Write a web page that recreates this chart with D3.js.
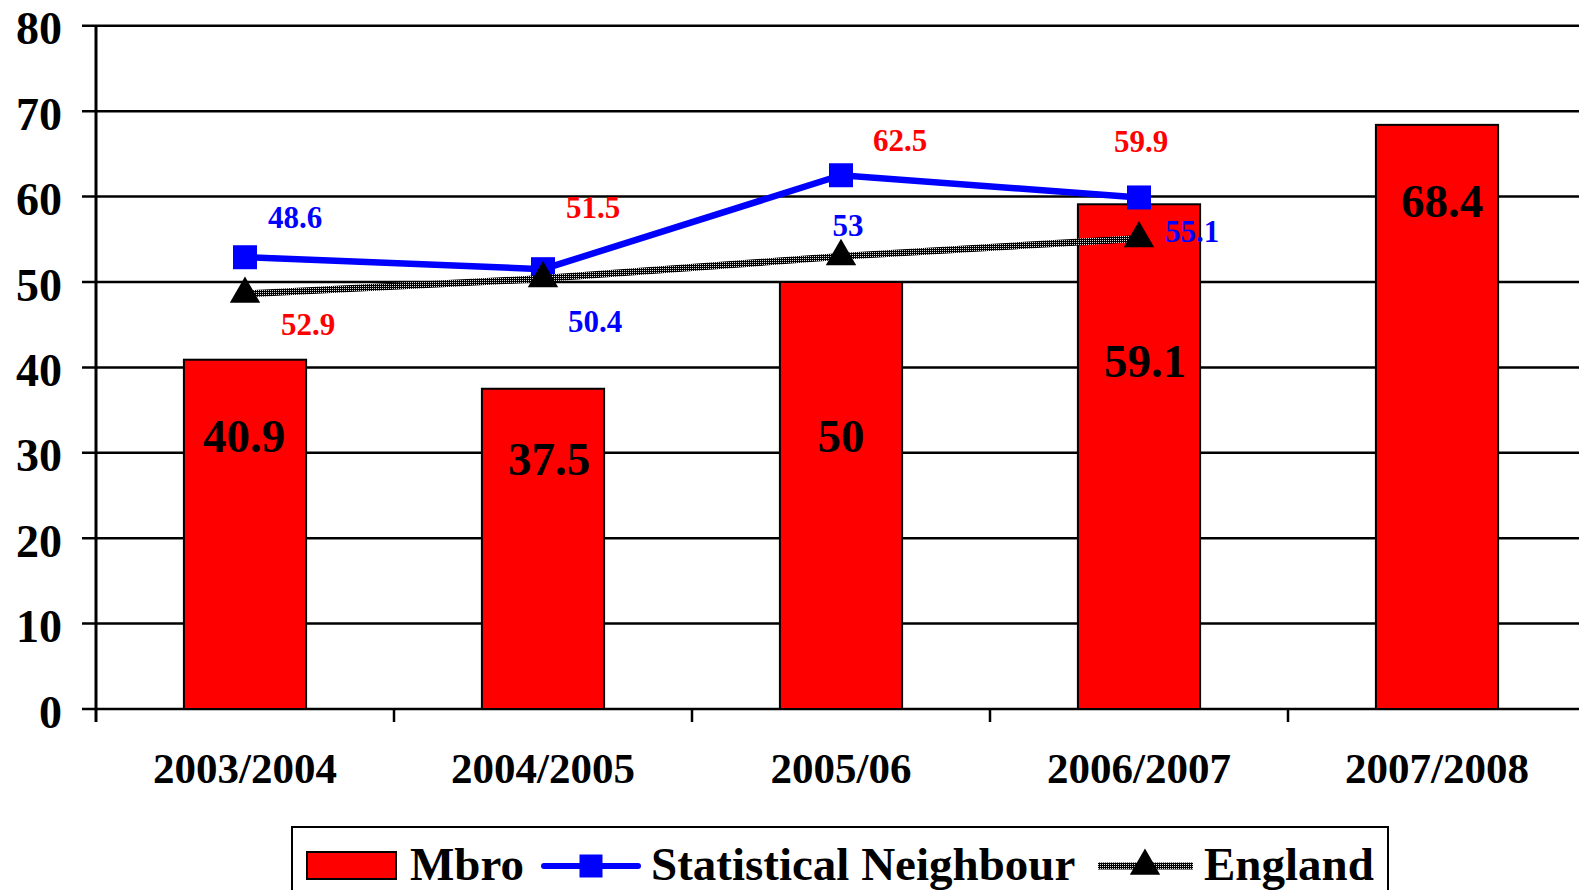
<!DOCTYPE html>
<html>
<head>
<meta charset="utf-8">
<script src="https://cdn.jsdelivr.net/npm/d3@7"></script>
<style>
    body { margin: 0; background: #fff; }
    svg { display: block; font-family: "Liberation Serif", "Times New Roman", serif; font-weight: bold; }
</style>
</head>
<body>
<svg id="chart"></svg>
<script>
// Chart values
const categories = ["2003/2004", "2004/2005", "2005/06", "2006/2007", "2007/2008"];
const mbro = [40.9, 37.5, 50, 59.1, 68.4];
const statNeighbour = [52.9, 51.5, 62.5, 59.9];
const england = [48.6, 50.4, 53, 55.1];
const yTicks = [0, 10, 20, 30, 40, 50, 60, 70, 80];
const seriesNames = ["Mbro", "Statistical Neighbour", "England"];

// Hand placed data labels (px offsets from the marker / bar top)
const snLabelOffset = [[63, 78], [50, -51], [59, -24], [2, -45]];
const engLabelOffset = [[50, -66], [52, 53], [7, -20], [53, 4]];
const barLabelOffset = [[-1, 92], [6, 86], [0, 170], [6, 173], [5, 92]];

drawChart();

function drawChart() {
    const width = 1579;
    const height = 890;
    const left = 96;
    const step = 298;
    const right = left + step * categories.length;

    const svg = d3.select("#chart")
        .attr("width", width)
        .attr("height", height);

    // stipple pattern for the England line
    const defs = svg.append("defs");
    const pat = defs.append("pattern")
        .attr("id", "stipple")
        .attr("patternUnits", "userSpaceOnUse")
        .attr("width", 2)
        .attr("height", 2);
    pat.append("rect").attr("width", 2).attr("height", 2).attr("fill", "#000");
    pat.append("rect").attr("width", 1).attr("height", 1).attr("fill", "#ddd");

    // Scales
    const x = d3.scaleBand()
        .domain(categories)
        .range([left, right])
        .paddingInner(0.59)
        .paddingOuter(0.295);

    const y = d3.scaleLinear()
        .domain([0, 80])
        .range([709, 25.8]);

    const cx = (i) => x(categories[i]) + x.bandwidth() / 2;

    // Gridlines
    svg.append("g")
        .selectAll("line")
        .data(yTicks)
        .join("line")
        .attr("x1", left - 14)
        .attr("x2", width)
        .attr("y1", (d) => y(d))
        .attr("y2", (d) => y(d))
        .attr("stroke", "#000")
        .attr("stroke-width", 2.5);

    // Y axis labels
    const yAxis = svg.append("g")
        .attr("transform", `translate(${left},0)`)
        .call(d3.axisLeft(y).tickValues(yTicks).tickSize(0).tickPadding(34));
    yAxis.select(".domain").remove();
    yAxis.selectAll("text")
        .attr("font-size", 46)
        .attr("font-family", "Liberation Serif, Times New Roman, serif")
        .attr("font-weight", "bold")
        .attr("fill", "#000")
        .attr("dy", 18)
        .attr("y", 0);

    // Vertical axis line and category separators
    svg.append("line")
        .attr("x1", left).attr("x2", left)
        .attr("y1", y(80)).attr("y2", y(0) + 13)
        .attr("stroke", "#000").attr("stroke-width", 3);

    svg.append("g")
        .selectAll("line")
        .data(d3.range(1, categories.length + 1))
        .join("line")
        .attr("x1", (d) => left + d * x.step())
        .attr("x2", (d) => left + d * x.step())
        .attr("y1", y(0))
        .attr("y2", y(0) + 13)
        .attr("stroke", "#000")
        .attr("stroke-width", 2.5);

    // Category labels
    svg.append("g")
        .selectAll("text")
        .data(categories)
        .join("text")
        .attr("x", (d, i) => cx(i))
        .attr("y", 783)
        .attr("text-anchor", "middle")
        .attr("font-size", 43)
        .text((d) => d);

    // Bars
    svg.append("g")
        .selectAll("rect")
        .data(mbro)
        .join("rect")
        .attr("x", (d, i) => x(categories[i]))
        .attr("y", (d) => y(d))
        .attr("width", x.bandwidth())
        .attr("height", (d) => y(0) - y(d))
        .attr("fill", "#ff0000")
        .attr("stroke", "#000")
        .attr("stroke-width", 2);

    svg.append("g")
        .selectAll("text")
        .data(mbro)
        .join("text")
        .attr("x", (d, i) => cx(i) + barLabelOffset[i][0])
        .attr("y", (d, i) => y(d) + barLabelOffset[i][1])
        .attr("text-anchor", "middle")
        .attr("font-size", 47)
        .attr("fill", "#000")
        .text((d) => d);

    // Statistical Neighbour line
    const line = d3.line()
        .x((d, i) => cx(i))
        .y((d) => y(d));

    svg.append("path")
        .datum(statNeighbour)
        .attr("d", line)
        .attr("fill", "none")
        .attr("stroke", "#0000ff")
        .attr("stroke-width", 6.5);

    svg.append("g")
        .selectAll("path")
        .data(statNeighbour)
        .join("path")
        .attr("transform", (d, i) => `translate(${cx(i)},${y(d)})`)
        .attr("d", d3.symbol(d3.symbolSquare, 576))
        .attr("fill", "#0000ff");

    // England line
    svg.append("path")
        .datum(england)
        .attr("d", line)
        .attr("fill", "none")
        .attr("stroke", "url(#stipple)")
        .attr("stroke-width", 7);

    svg.append("g")
        .selectAll("path")
        .data(england)
        .join("path")
        .attr("transform", (d, i) => `translate(${cx(i)},${y(d)})`)
        .attr("d", d3.symbol(d3.symbolTriangle, 400))
        .attr("fill", "#000");

    // Line data labels
    svg.append("g")
        .selectAll("text")
        .data(statNeighbour)
        .join("text")
        .attr("x", (d, i) => cx(i) + snLabelOffset[i][0])
        .attr("y", (d, i) => y(d) + snLabelOffset[i][1])
        .attr("text-anchor", "middle")
        .attr("font-size", 31)
        .attr("fill", "#ff0000")
        .text((d) => d);

    svg.append("g")
        .selectAll("text")
        .data(england)
        .join("text")
        .attr("x", (d, i) => cx(i) + engLabelOffset[i][0])
        .attr("y", (d, i) => y(d) + engLabelOffset[i][1])
        .attr("text-anchor", "middle")
        .attr("font-size", 31)
        .attr("fill", "#0000ff")
        .text((d) => d);

    // Legend
    const legend = svg.append("g");
    legend.append("rect")
        .attr("x", 292).attr("y", 827)
        .attr("width", 1096).attr("height", 90)
        .attr("fill", "#fff")
        .attr("stroke", "#000")
        .attr("stroke-width", 2);

    const ly = 866;
    legend.append("rect")
        .attr("x", 307).attr("y", ly - 14)
        .attr("width", 89).attr("height", 27)
        .attr("fill", "#ff0000")
        .attr("stroke", "#000")
        .attr("stroke-width", 2);

    legend.append("line")
        .attr("x1", 544).attr("x2", 638)
        .attr("y1", ly).attr("y2", ly)
        .attr("stroke", "#0000ff")
        .attr("stroke-width", 6)
        .attr("stroke-linecap", "round");
    legend.append("path")
        .attr("transform", `translate(591,${ly})`)
        .attr("d", d3.symbol(d3.symbolSquare, 529))
        .attr("fill", "#0000ff");

    legend.append("line")
        .attr("x1", 1098).attr("x2", 1193)
        .attr("y1", ly).attr("y2", ly)
        .attr("stroke", "url(#stipple)")
        .attr("stroke-width", 7);
    legend.append("path")
        .attr("transform", `translate(1145,${ly})`)
        .attr("d", d3.symbol(d3.symbolTriangle, 400))
        .attr("fill", "#000");

    const textX = [410, 651, 1204];
    legend.selectAll("text")
        .data(seriesNames)
        .join("text")
        .attr("x", (d, i) => textX[i])
        .attr("y", 880)
        .attr("font-size", 47)
        .attr("fill", "#000")
        .text((d) => d);
}
</script>
</body>
</html>
